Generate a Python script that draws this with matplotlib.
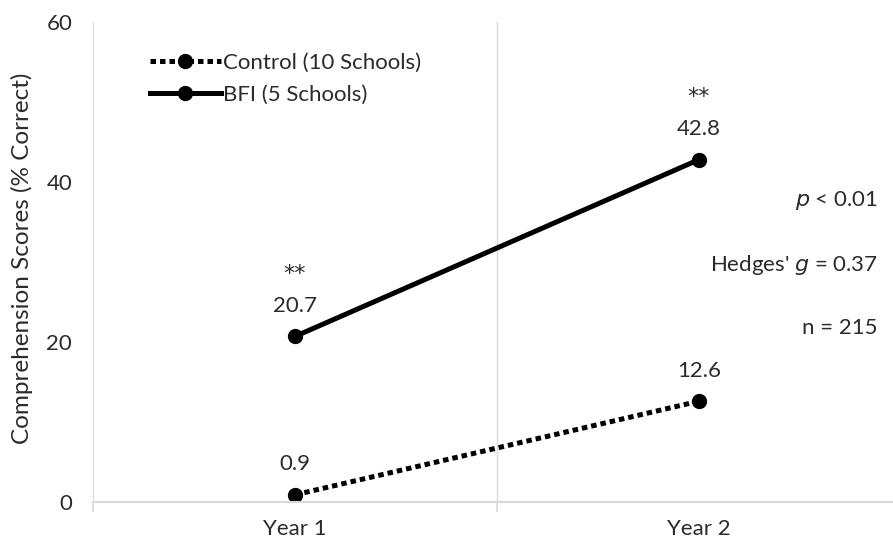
import matplotlib.pyplot as plt

plt.rcParams['font.family'] = ['Lato', 'DejaVu Sans']

years = ['Year 1', 'Year 2']
control = [0.9, 12.6]
bfi = [20.7, 42.8]
bfi_stars = ['**', '**']
y_ticks = [0, 20, 40, 60]

txt = '#2b2b2b'
grid = '#d9d9d9'
fs = 16

fig = plt.figure(figsize=(8.93, 5.46), dpi=100)
ax = fig.add_axes([93/893, 44/546, 808/893, 480/546])

x = list(range(len(years)))
ax.plot(x, control, color='black', lw=3.6, ls=(0, (1.1, 0.8)), dash_capstyle='butt',
        marker='o', ms=10, label='Control (10 Schools)')
ax.plot(x, bfi, color='black', lw=3.6, marker='o', ms=10, label='BFI (5 Schools)')

# value labels, stars over the BFI points
for xi, v in zip(x, control):
    ax.annotate(f'{v:.1f}', (xi, v), xytext=(0, 22), textcoords='offset points',
                ha='center', va='center', fontsize=fs, color=txt)
for xi, v, s in zip(x, bfi, bfi_stars):
    ax.annotate(f'{v:.1f}', (xi, v), xytext=(0, 22), textcoords='offset points',
                ha='center', va='center', fontsize=fs, color=txt)
    ax.annotate(s, (xi, v), xytext=(0, 45), textcoords='offset points',
                ha='center', va='center', fontsize=fs, color=txt, family='DejaVu Sans')

ax.set_xlim(-0.5, 1.5)
ax.set_ylim(0, 60)
ax.set_yticks(y_ticks)
ax.set_xticks(x)
ax.set_xticklabels(years)
ax.set_xticks([-0.5, 0.5, 1.5], minor=True)
ax.tick_params(axis='y', length=0, pad=15, labelsize=fs, labelcolor=txt)
ax.tick_params(axis='x', which='major', length=0, pad=12, labelsize=fs, labelcolor=txt)
ax.tick_params(axis='x', which='minor', length=7, color=grid, width=1.2)
ax.axvline(0.5, color=grid, lw=1, zorder=0)

for side in ['top', 'right']:
    ax.spines[side].set_visible(False)
ax.spines['left'].set_color(grid)
ax.spines['bottom'].set_color(grid)
ax.spines['bottom'].set_linewidth(1.5)

ax.set_ylabel('Comprehension Scores (% Correct)', fontsize=17.5, color=txt)
ax.yaxis.set_label_coords(-60/808, 0.508)

leg = ax.legend(loc='upper left', bbox_to_anchor=(48/808, 0.955), frameon=False,
                fontsize=fs, handlelength=3.2, handletextpad=0.1, labelspacing=0.55,
                labelcolor=txt, borderaxespad=0)

# test statistics on the right
fig.text(878/893, 1 - 201/546, r'$\it{p}$ < 0.01', ha='right', va='center', fontsize=fs, color=txt)
fig.text(878/893, 1 - 265/546, r"Hedges' $\it{g}$ = 0.37", ha='right', va='center', fontsize=fs, color=txt)
fig.text(878/893, 1 - 328/546, 'n = 215', ha='right', va='center', fontsize=fs, color=txt)

fig.savefig('out.png', dpi=100)
